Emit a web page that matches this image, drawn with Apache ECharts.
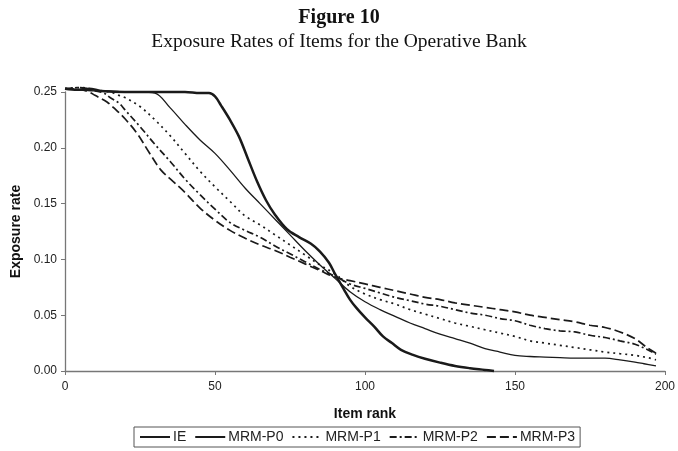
<!DOCTYPE html>
<html>
<head>
<meta charset="utf-8">
<script src="https://cdn.jsdelivr.net/npm/echarts@6/dist/echarts.min.js"></script>
<style>
  html, body { margin: 0; padding: 0; background: #fff; }
  #chart { width: 678px; height: 451px; }
</style>
</head>
<body>
<div id="chart"></div>
<script>
// Item ranks and exposure rates for each selection method
const seriesNames = ['IE', 'MRM-P0', 'MRM-P1', 'MRM-P2', 'MRM-P3'];
const xTicks = [0, 50, 100, 150, 200];
const yTicks = [0.00, 0.05, 0.10, 0.15, 0.20, 0.25];

const rankIE = [0, 4, 8, 12, 20, 30, 40, 45, 48, 50, 52, 55, 58, 61, 64, 67, 70, 74, 78, 82, 85, 88, 90, 93, 95, 97, 100, 103, 106, 109, 112, 116, 120, 125, 130, 135, 140, 143];
const rateIE = [0.253, 0.252, 0.253, 0.251, 0.250, 0.250, 0.250, 0.249, 0.249, 0.246, 0.238, 0.225, 0.210, 0.190, 0.170, 0.153, 0.140, 0.127, 0.120, 0.114, 0.107, 0.097, 0.087, 0.073, 0.064, 0.057, 0.048, 0.040, 0.031, 0.025, 0.019, 0.0145, 0.011, 0.0075, 0.0045, 0.0025, 0.001, 0.0];

const rankP0 = [0, 5, 10, 15, 20, 25, 30, 35, 40, 45, 50, 55, 60, 65, 70, 75, 80, 85, 90, 95, 100, 105, 110, 115, 120, 125, 130, 135, 140, 145, 150, 155, 160, 165, 170, 175, 180, 185, 190, 193, 197];
const rateP0 = [0.253, 0.252, 0.251, 0.251, 0.250, 0.250, 0.249, 0.236, 0.221, 0.207, 0.195, 0.180, 0.164, 0.150, 0.136, 0.122, 0.108, 0.095, 0.083, 0.071, 0.062, 0.055, 0.049, 0.043, 0.038, 0.033, 0.029, 0.025, 0.020, 0.017, 0.014, 0.013, 0.0125, 0.012, 0.0116, 0.0116, 0.0115, 0.010, 0.008, 0.0065, 0.0045];

const rankP1 = [0, 5, 10, 15, 18, 20, 25, 30, 35, 40, 45, 50, 55, 60, 65, 70, 75, 80, 85, 90, 95, 100, 105, 110, 115, 120, 125, 130, 135, 140, 145, 150, 155, 160, 165, 170, 175, 180, 185, 190, 195, 197];
const rateP1 = [0.253, 0.254, 0.252, 0.250, 0.247, 0.245, 0.237, 0.225, 0.211, 0.195, 0.179, 0.165, 0.152, 0.139, 0.131, 0.122, 0.113, 0.104, 0.095, 0.087, 0.076, 0.069, 0.064, 0.060, 0.055, 0.051, 0.047, 0.043, 0.040, 0.037, 0.034, 0.031, 0.027, 0.025, 0.023, 0.021, 0.019, 0.017, 0.0155, 0.014, 0.0115, 0.010];

const rankP2 = [0, 5, 10, 13, 15, 18, 20, 25, 30, 35, 40, 45, 50, 55, 60, 65, 70, 75, 80, 85, 90, 95, 100, 105, 110, 115, 120, 125, 130, 135, 140, 145, 150, 155, 160, 165, 170, 175, 180, 185, 190, 195, 197];
const rateP2 = [0.253, 0.254, 0.251, 0.249, 0.245, 0.240, 0.234, 0.219, 0.203, 0.188, 0.172, 0.158, 0.145, 0.133, 0.126, 0.120, 0.112, 0.105, 0.098, 0.091, 0.085, 0.078, 0.074, 0.070, 0.066, 0.063, 0.060, 0.058, 0.055, 0.052, 0.050, 0.047, 0.045, 0.041, 0.038, 0.036, 0.035, 0.032, 0.030, 0.027, 0.024, 0.018, 0.015];

const rankP3 = [0, 5, 8, 10, 14, 17, 20, 24, 28, 32, 36, 40, 45, 50, 55, 60, 65, 70, 75, 80, 85, 90, 95, 100, 105, 110, 115, 120, 125, 130, 135, 140, 145, 150, 155, 160, 165, 170, 175, 180, 185, 190, 194, 197];
const rateP3 = [0.253, 0.252, 0.250, 0.247, 0.241, 0.234, 0.226, 0.213, 0.196, 0.180, 0.170, 0.160, 0.146, 0.135, 0.126, 0.119, 0.113, 0.108, 0.102, 0.096, 0.090, 0.084, 0.081, 0.078, 0.075, 0.072, 0.069, 0.066, 0.064, 0.061, 0.059, 0.057, 0.055, 0.053, 0.050, 0.048, 0.046, 0.044, 0.041, 0.039, 0.035, 0.029, 0.021, 0.016];

function pairs(xs, ys) { return xs.map((x, i) => [x, ys[i]]); }

const ink = '#1a1a1a';
const lineStyles = [
  { width: 2.5, type: 'solid' },
  { width: 1.3, type: 'solid' },
  { width: 1.7, type: [2, 4] },
  { width: 1.7, type: [7, 3, 2, 3] },
  { width: 1.7, type: [9, 4] }
];
const dataSets = [
  pairs(rankIE, rateIE),
  pairs(rankP0, rateP0),
  pairs(rankP1, rateP1),
  pairs(rankP2, rateP2),
  pairs(rankP3, rateP3)
];

const chart = echarts.init(document.getElementById('chart'), null, { renderer: 'canvas' });
chart.setOption({
  animation: false,
  backgroundColor: '#ffffff',
  title: [
    {
      text: 'Figure 10',
      left: 'center', top: 3,
      textStyle: { fontFamily: 'Liberation Serif', fontSize: 20, fontWeight: 'bold', color: '#111' }
    },
    {
      text: 'Exposure Rates of Items for the Operative Bank',
      left: 'center', top: 27,
      textStyle: { fontFamily: 'Liberation Serif', fontSize: 19.5, fontWeight: 'normal', color: '#111' }
    }
  ],
  grid: { left: 65, right: 9, top: 92, bottom: 80, containLabel: false },
  legend: {
    left: 134, top: 427,
    padding: [3, 5],
    itemWidth: 30, itemHeight: 12, itemGap: 8,
    borderColor: '#555', borderWidth: 1,
    itemStyle: { opacity: 0 },
    textStyle: { fontFamily: 'Liberation Sans', fontSize: 14, color: '#222', padding: [0, 0, 0, -2] },
    data: seriesNames
  },
  xAxis: {
    type: 'value', min: xTicks[0], max: xTicks[xTicks.length - 1], interval: 50,
    name: 'Item rank', nameLocation: 'middle', nameGap: 36,
    nameTextStyle: { fontFamily: 'Liberation Sans', fontSize: 14, fontWeight: 'bold', color: '#111' },
    axisLine: { lineStyle: { color: '#777', width: 1.3 } },
    axisTick: { show: true, length: 4, lineStyle: { color: '#777' } },
    axisLabel: { margin: 10, fontFamily: 'Liberation Sans', fontSize: 12, color: '#222' },
    splitLine: { show: false }
  },
  yAxis: {
    type: 'value', min: yTicks[0], max: yTicks[yTicks.length - 1], interval: 0.05,
    name: 'Exposure rate', nameLocation: 'middle', nameGap: 35, nameRotate: 90,
    nameTextStyle: { fontFamily: 'Liberation Sans', fontSize: 14, fontWeight: 'bold', color: '#111' },
    axisLine: { show: true, lineStyle: { color: '#777', width: 1.3 } },
    axisTick: { show: true, length: 4, lineStyle: { color: '#777' } },
    axisLabel: { margin: 8, fontFamily: 'Liberation Sans', fontSize: 12, color: '#222',
                 formatter: v => v.toFixed(2) },
    splitLine: { show: false }
  },
  series: seriesNames.map((name, i) => ({
    name: name,
    type: 'line',
    data: dataSets[i],
    showSymbol: false,
    symbol: 'none',
    smooth: 0.35,
    clip: false,
    color: ink,
    lineStyle: Object.assign({ color: ink }, lineStyles[i]),
    z: 10 - i
  }))
});
</script>
</body>
</html>
